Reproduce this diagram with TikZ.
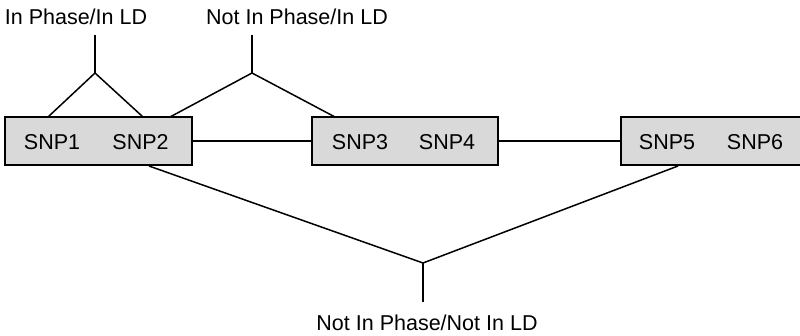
\documentclass[tikz,border=0pt]{standalone}
\usepackage{fontspec}
\setmainfont{Liberation Sans}
\begin{document}
\begin{tikzpicture}[x=1pt,y=-1pt,
  lbl/.style={inner sep=0pt,text height=15.4pt,text depth=0pt,font=\fontsize{21.5}{24}\selectfont},
  snpbox/.style={draw=black,line width=2pt,fill=black!15,inner sep=0pt},
  conn/.style={line width=1.5pt,draw=black}]
\useasboundingbox (0,0) rectangle (800,336);
\clip (0,0) rectangle (800,336);
% boxes
\node[snpbox,minimum width=187pt,minimum height=48pt] (b1) at (98.5,141) {};
\node[snpbox,minimum width=186pt,minimum height=48pt] (b2) at (405,141) {};
\node[snpbox,minimum width=200pt,minimum height=48pt,anchor=west] (b3) at (620,141) {};
% SNP labels
\node[lbl] (s1) at (52,141.5) {SNP1};
\node[lbl] (s2) at (140.5,141.5) {SNP2};
\node[lbl] (s3) at (360,141.5) {SNP3};
\node[lbl] (s4) at (447,141.5) {SNP4};
\node[lbl] (s5) at (667,141.5) {SNP5};
\node[lbl] (s6) at (755,141.5) {SNP6};
% top/bottom labels
\node[lbl] (t1) at (76,16.5) {In Phase/In LD};
\node[lbl] (t2) at (297,16.5) {Not In Phase/In LD};
\node[lbl] (t3) at (427,322.5) {Not In Phase/Not In LD};
% connectors between boxes
\draw[conn] (b1.east) -- (b2.west);
\draw[conn] (b2.east) -- (b3.west);
% attach points
\coordinate (a1) at (95,73);
\coordinate (a1top) at (95,35);
\coordinate (p1l) at (48,117);
\coordinate (p1r) at (143,117);
\coordinate (a2) at (252,73);
\coordinate (a2top) at (252,35);
\coordinate (p2l) at (170,117);
\coordinate (p2r) at (335,117);
\coordinate (a3) at (423,263);
\coordinate (a3bot) at (423,302);
\coordinate (p3l) at (149,166);
\coordinate (p3r) at (678,166);
% branches
\draw[conn] (a1top) -- (a1);
\draw[conn] (p1l) -- (a1) -- (p1r);
\draw[conn] (a2top) -- (a2);
\draw[conn] (p2l) -- (a2) -- (p2r);
\draw[conn] (a3bot) -- (a3);
\draw[conn] (p3l) -- (a3) -- (p3r);
\end{tikzpicture}
\end{document}
